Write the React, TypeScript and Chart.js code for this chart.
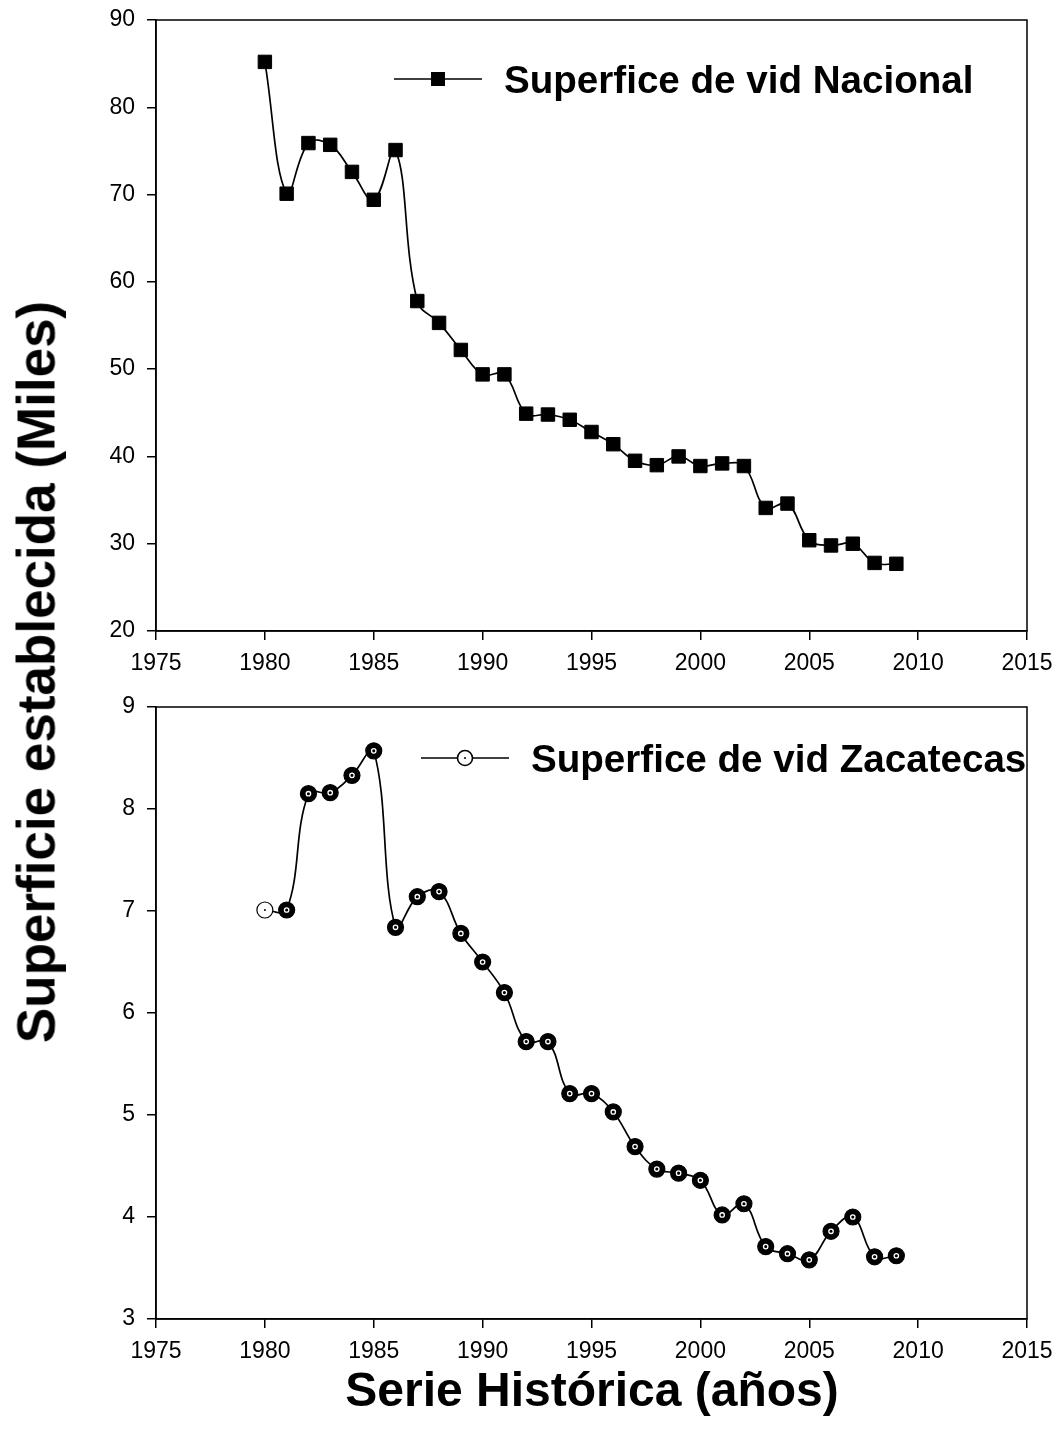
import React, { useEffect, useRef } from "react";
import { Chart, registerables } from "chart.js";

Chart.register(...registerables);

const years = [1980, 1981, 1982, 1983, 1984, 1985, 1986, 1987, 1988, 1989, 1990, 1991, 1992, 1993, 1994, 1995, 1996, 1997, 1998, 1999, 2000, 2001, 2002, 2003, 2004, 2005, 2006, 2007, 2008, 2009];
const nacional = [85.2, 70.1, 75.9, 75.7, 72.6, 69.4, 75.1, 57.8, 55.3, 52.2, 49.4, 49.4, 44.9, 44.8, 44.2, 42.8, 41.4, 39.5, 39.0, 40.0, 38.9, 39.2, 38.9, 34.1, 34.6, 30.4, 29.8, 30.0, 27.8, 27.7];
const zacatecas = [7.01, 7.01, 8.15, 8.16, 8.33, 8.57, 6.84, 7.14, 7.19, 6.78, 6.5, 6.2, 5.72, 5.72, 5.21, 5.21, 5.03, 4.69, 4.47, 4.43, 4.36, 4.02, 4.13, 3.71, 3.64, 3.58, 3.86, 4.0, 3.61, 3.62];
const xTicksRange = { min: 1975, max: 2015, step: 5 };
const topRange = { min: 20, max: 90, step: 10 };
const bottomRange = { min: 3, max: 9, step: 1 };
const labelNacional = "Superfice de vid Nacional";
const labelZacatecas = "Superfice de vid Zacatecas";
const yTitle = "Superficie establecida (Miles)";
const xTitle = "Serie Histórica (años)";

const FONT = "Arial, 'Liberation Sans', sans-serif";

const frame = {
  id: "frame",
  afterDraw(chart: any) {
    const { ctx, chartArea } = chart;
    ctx.save();
    ctx.strokeStyle = "#000";
    ctx.lineWidth = 1.5;
    ctx.strokeRect(chartArea.left, chartArea.top, chartArea.right - chartArea.left, chartArea.bottom - chartArea.top);
    ctx.restore();
  },
};

function legendPlugin(kind: "square" | "circle", text: string, x0: number, x1: number, y: number, tx: number, baseline: number) {
  return {
    id: "customLegend",
    afterDraw(chart: any) {
      const ctx = chart.ctx;
      ctx.save();
      ctx.strokeStyle = "#000";
      ctx.lineWidth = 1.6;
      ctx.beginPath();
      ctx.moveTo(x0, y);
      ctx.lineTo(x1, y);
      ctx.stroke();
      const cx = (x0 + x1) / 2;
      if (kind === "square") {
        ctx.fillStyle = "#000";
        ctx.fillRect(cx - 7, y - 7, 14, 14);
      } else {
        ctx.fillStyle = "#fff";
        ctx.beginPath();
        ctx.arc(cx, y, 7.5, 0, Math.PI * 2);
        ctx.fill();
        ctx.stroke();
        ctx.fillStyle = "#000";
        ctx.beginPath();
        ctx.arc(cx, y, 1, 0, Math.PI * 2);
        ctx.fill();
      }
      ctx.fillStyle = "#000";
      ctx.font = `bold 38.6px ${FONT}`;
      ctx.textBaseline = "alphabetic";
      ctx.textAlign = "left";
      ctx.fillText(text, tx, baseline);
      ctx.restore();
    },
  };
}

function makeScales(yr: { min: number; max: number; step: number }, xHeight: number) {
  const tickFont = { family: FONT, size: 23 };
  return {
    x: {
      type: "linear" as const,
      min: xTicksRange.min,
      max: xTicksRange.max,
      ticks: { stepSize: xTicksRange.step, callback: (v: any) => String(v), font: tickFont, color: "#000", padding: 10, maxRotation: 0, autoSkip: false },
      grid: { drawOnChartArea: false, drawTicks: true, tickLength: 9, color: "#000", lineWidth: 1.5 },
      border: { display: true, color: "#000", width: 1.5 },
      afterFit: (s: any) => {
        s.height = xHeight;
        s.paddingLeft = 0;
        s.paddingRight = 0;
      },
    },
    y: {
      type: "linear" as const,
      min: yr.min,
      max: yr.max,
      ticks: { stepSize: yr.step, font: tickFont, color: "#000", padding: 12 },
      grid: { drawOnChartArea: false, drawTicks: true, tickLength: 9, color: "#000", lineWidth: 1.5 },
      border: { display: true, color: "#000", width: 1.5 },
      afterFit: (s: any) => {
        s.width = 156;
        s.paddingTop = 0;
        s.paddingBottom = 0;
      },
    },
  };
}

function TopChart() {
  const ref = useRef<HTMLCanvasElement>(null);
  useEffect(() => {
    const chart = new Chart(ref.current!, {
      type: "line",
      data: {
        datasets: [
          {
            label: labelNacional,
            data: years.map((y, i) => ({ x: y, y: nacional[i] })),
            borderColor: "#000",
            borderWidth: 1.7,
            tension: 0.4,
            pointStyle: "rect",
            pointRadius: 9.5,
            pointBackgroundColor: "#000",
            pointBorderColor: "#000",
            pointBorderWidth: 1,
          },
        ],
      },
      options: {
        animation: false,
        responsive: false,
        maintainAspectRatio: false,
        layout: { padding: { top: 20, right: 34, left: 0, bottom: 0 } },
        plugins: { legend: { display: false }, tooltip: { enabled: false } },
        scales: makeScales(topRange, 59),
      },
      plugins: [frame, legendPlugin("square", labelNacional, 394, 482, 79, 504, 93)],
    });
    return () => chart.destroy();
  }, []);
  return <canvas ref={ref} width={1061} height={690} style={{ position: "absolute", left: 0, top: 0, width: 1061, height: 690 }} />;
}

function BottomChart() {
  const ref = useRef<HTMLCanvasElement>(null);
  useEffect(() => {
    const chart = new Chart(ref.current!, {
      type: "line",
      data: {
        datasets: [
          {
            label: labelZacatecas,
            order: 1,
            data: years.map((y, i) => ({ x: y, y: zacatecas[i] })),
            borderColor: "#000",
            borderWidth: 1.7,
            tension: 0.4,
            pointStyle: "circle",
            pointRadius: 8,
            pointBackgroundColor: (c: any) => (c.dataIndex === 0 ? "#fff" : "#000"),
            pointBorderColor: "#000",
            pointBorderWidth: 1.2,
          },
          {
            label: "centro",
            order: 0,
            data: years.map((y, i) => ({ x: y, y: zacatecas[i] })),
            showLine: false,
            pointStyle: "circle",
            pointRadius: (c: any) => (c.dataIndex === 0 ? 1 : 2.2),
            pointBackgroundColor: "#000",
            pointBorderColor: (c: any) => (c.dataIndex === 0 ? "#000" : "#fff"),
            pointBorderWidth: (c: any) => (c.dataIndex === 0 ? 0 : 1.3),
          },
        ],
      },
      options: {
        animation: false,
        responsive: false,
        maintainAspectRatio: false,
        layout: { padding: { top: 17, right: 34, left: 0, bottom: 0 } },
        plugins: { legend: { display: false }, tooltip: { enabled: false } },
        scales: makeScales(bottomRange, 122),
      },
      plugins: [frame, legendPlugin("circle", labelZacatecas, 421, 509, 68, 531, 82)],
    });
    return () => chart.destroy();
  }, []);
  return <canvas ref={ref} width={1061} height={751} style={{ position: "absolute", left: 0, top: 690, width: 1061, height: 751 }} />;
}

export default function App() {
  return (
    <div style={{ position: "absolute", left: 0, top: 0, width: 1061, height: 1441, background: "#fff", overflow: "hidden" }}>
      <TopChart />
      <BottomChart />
      <div
        style={{
          position: "absolute",
          left: 36,
          top: 672,
          transform: "translate(-50%, -50%) rotate(-90deg)",
          whiteSpace: "nowrap",
          font: `bold 53px ${FONT}`,
          color: "#000",
          lineHeight: 1,
        }}
      >
        {yTitle}
      </div>
      <div
        style={{
          position: "absolute",
          left: 592,
          top: 1390,
          transform: "translate(-50%, -50%)",
          whiteSpace: "nowrap",
          font: `bold 48px ${FONT}`,
          color: "#000",
          lineHeight: 1,
        }}
      >
        {xTitle}
      </div>
    </div>
  );
}
